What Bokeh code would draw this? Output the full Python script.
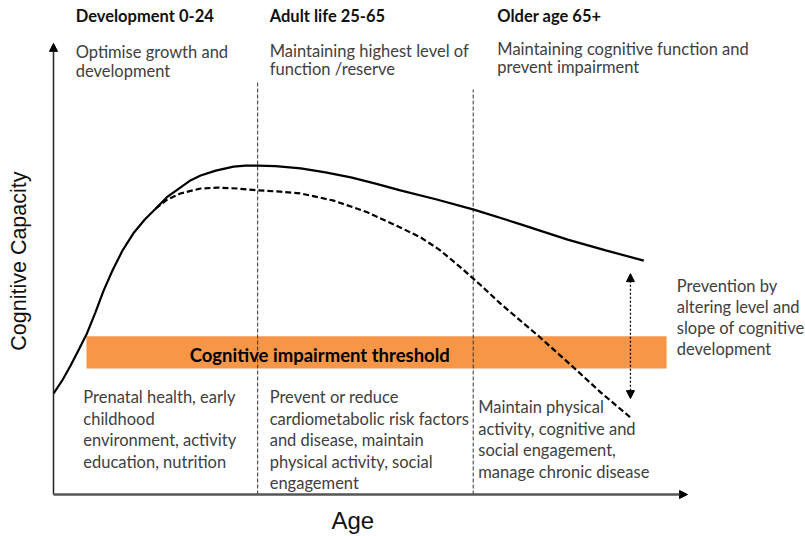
from bokeh.plotting import figure
from bokeh.models import Range1d, Arrow, NormalHead
from bokeh.core.properties import value
from bokeh.embed import file_html
from bokeh.resources import INLINE

# ---- Data (abstract units: age axis 0-100, cognitive capacity axis 0-100) ----
solid_x = [0, 1.4, 2.7, 3.9, 5.2, 6.6, 7.9, 9.3, 10.9, 12.6, 14.4, 16.1, 18.0, 20.0,
           21.6, 23.2, 25.6, 28.4, 30.3, 32.2, 35.0, 39.0, 42.9, 46.9, 50.8, 54.7,
           60.3, 66.3, 73.7, 81.1, 87.1, 93.1]
solid_y = [22.5, 25.5, 28.8, 32.1, 35.7, 40.6, 45.5, 50.0, 54.5, 58.3, 61.4, 63.8, 66.5,
           68.5, 70.1, 71.2, 72.3, 73.2, 73.4, 73.4, 73.3, 72.8, 71.9, 70.8, 69.4, 67.9,
           65.9, 63.6, 60.3, 56.9, 54.5, 52.2]

dashed_x = [16.1, 18.0, 20.0, 23.2, 25.9, 29.0, 32.2, 35.8, 39.0, 44.2, 49.5, 54.7,
            57.9, 61.0, 64.2, 67.4, 70.5, 76.8, 82.0, 86.3, 91.0]
dashed_y = [63.8, 65.9, 67.2, 68.3, 68.5, 68.3, 67.9, 67.6, 67.2, 65.6, 63.0, 59.6,
            57.4, 54.5, 50.7, 46.7, 42.6, 35.0, 28.4, 22.8, 17.2]

stage_boundaries = [32.2, 66.2]
stage_boundary_tops = [92.0, 90.4]

threshold_left, threshold_right = 5.2, 96.7
threshold_low, threshold_high = 28.1, 35.3

prevention_x = 91.0
prevention_low, prevention_high = 21.4, 49.3

axis_max_x = 100.0
axis_max_y = 100.7

stage_titles = ["Development 0-24", "Adult life 25-65", "Older age 65+"]
stage_goals = [
    ["Optimise  growth and", "development"],
    ["Maintaining highest level of", "function /reserve"],
    ["Maintaining cognitive function and", "prevent impairment"],
]
stage_actions = [
    ["Prenatal health, early", "childhood", "environment, activity", "education, nutrition"],
    ["Prevent or reduce", "cardiometabolic risk factors", "and disease, maintain",
     "physical activity, social", "engagement"],
    ["Maintain physical", "activity, cognitive and", "social engagement,",
     "manage chronic disease"],
]
prevention_note = ["Prevention by", "altering level and", "slope of cognitive", "development"]
threshold_label = "Cognitive impairment threshold"
x_label = "Age"
y_label = "Cognitive Capacity"

# ---- Figure ----
p = figure(width=805, height=536, output_backend="svg", toolbar_location=None,
           x_range=Range1d(-8.36, 118.61), y_range=Range1d(-9.375, 110.27),
           x_axis_location=None, y_axis_location=None, min_border=0)
p.grid.visible = False
p.outline_line_color = None
p.background_fill_color = "white"
p.border_fill_color = "white"

FONT = value("Lato")
BODY = "#404040"
FS = "16.5px"
DY = 1.1  # baseline correction

# threshold band
p.quad(left=[threshold_left], right=[threshold_right], bottom=[threshold_low],
       top=[threshold_high], fill_color="#F79646", line_color=None)

# stage boundaries
for bx, bt in zip(stage_boundaries, stage_boundary_tops):
    p.line([bx, bx], [0, bt], line_color="#333333", line_width=1, line_dash="4 2")

# curves
p.line(solid_x, solid_y, line_color="black", line_width=2.2)
p.line(dashed_x, dashed_y, line_color="black", line_width=2.2, line_dash="6 3")

# axes as arrows
p.add_layout(Arrow(end=NormalHead(size=8, fill_color="black", line_color="black"),
                   x_start=0, y_start=0, x_end=0, y_end=axis_max_y,
                   line_color="#222222", line_width=1.5))
p.add_layout(Arrow(end=NormalHead(size=8, fill_color="black", line_color="black"),
                   x_start=0, y_start=0, x_end=axis_max_x, y_end=0,
                   line_color="#555555", line_width=2.5))

# prevention double arrow
p.add_layout(Arrow(start=NormalHead(size=8, fill_color="black", line_color="black"),
                   end=NormalHead(size=8, fill_color="black", line_color="black"),
                   x_start=prevention_x, y_start=prevention_low,
                   x_end=prevention_x, y_end=prevention_high,
                   line_color="black", line_width=1.3, line_dash="2 2"))

# threshold label
p.text(x=[42.0], y=[30.1 + DY], text=[threshold_label], text_font=FONT,
       text_font_size="18.5px", text_font_style="bold", text_color="black",
       text_align="center", text_baseline="alphabetic")

# stage texts
title_x = [3.5, 34.1, 70.0]
goal_base = [97.6, 98.0, 98.4]
for i in range(3):
    p.text(x=[title_x[i]], y=[105.6 + DY], text=[stage_titles[i]], text_font=FONT,
           text_font_size=FS, text_font_style="bold", text_color="#111111",
           text_baseline="alphabetic")
    lines = stage_goals[i]
    p.text(x=[title_x[i]] * len(lines),
           y=[goal_base[i] + DY - k * 4.08 for k in range(len(lines))],
           text=lines, text_font=FONT, text_font_size=FS, text_color=BODY,
           text_baseline="alphabetic")

action_x = [4.7, 34.1, 67.0]
action_base = [20.6, 20.6, 18.4]
for i in range(3):
    lines = stage_actions[i]
    p.text(x=[action_x[i]] * len(lines),
           y=[action_base[i] + DY - k * 4.8 for k in range(len(lines))],
           text=lines, text_font=FONT, text_font_size=FS, text_color=BODY,
           text_baseline="alphabetic")

p.text(x=[98.3] * len(prevention_note),
       y=[45.4 + DY - k * 4.71 for k in range(len(prevention_note))],
       text=prevention_note, text_font=FONT, text_font_size=FS, text_color=BODY,
       text_baseline="alphabetic")

# axis labels
p.text(x=[47.2], y=[-5.9], text=[x_label], text_font=value("Liberation Sans"),
       text_font_size="24px", text_color="#111111", text_align="center",
       text_baseline="alphabetic")
p.text(x=[-5.4], y=[52.1], text=[y_label], text_font=value("Liberation Sans"),
       text_font_size="21.5px", text_color="#111111", text_align="center",
       text_baseline="middle", angle=1.5708)

open("out.html", "w").write(file_html(p, INLINE))
